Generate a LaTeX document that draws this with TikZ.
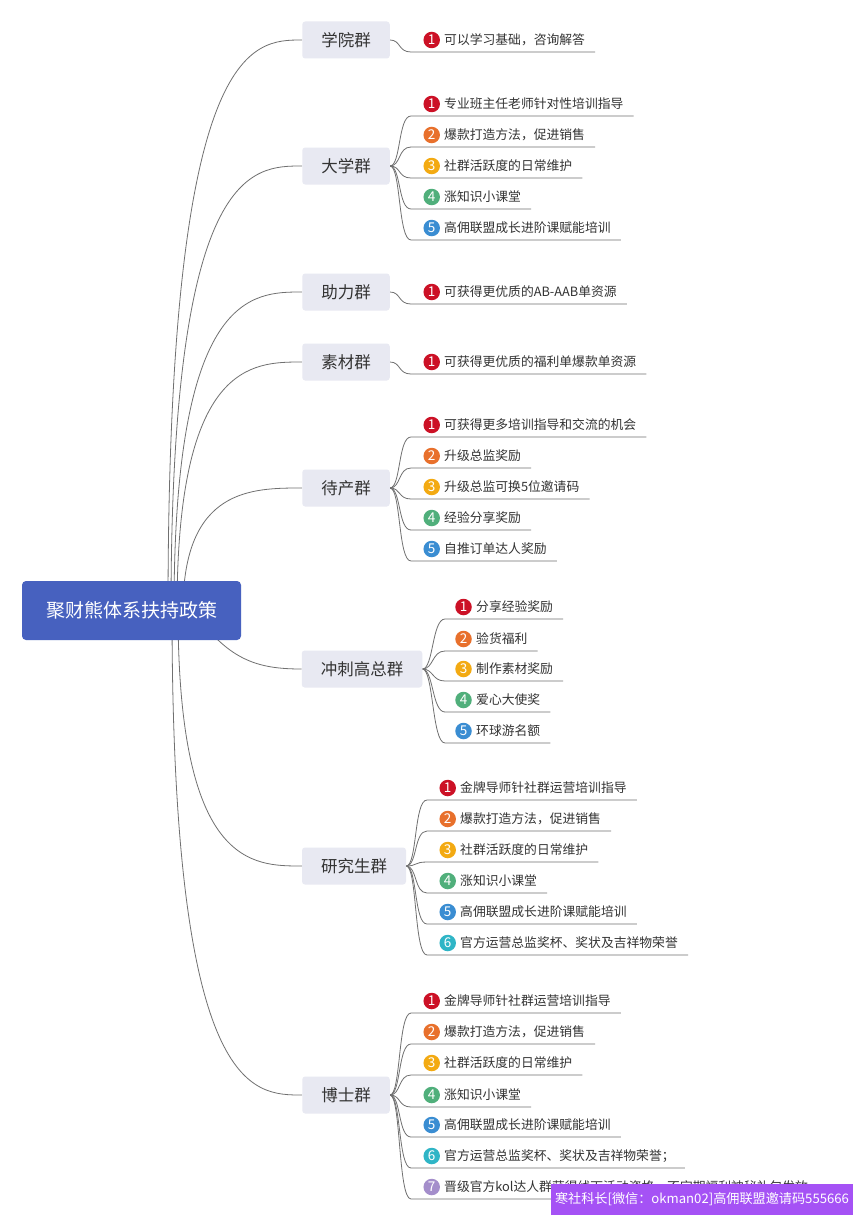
\documentclass[tikz,border=0pt]{standalone}
\usepackage{fontspec}
\setmainfont{Noto Sans CJK SC}
\usetikzlibrary{calc,backgrounds}
\definecolor{cA}{HTML}{CC1126}
\definecolor{cB}{HTML}{E8702C}
\definecolor{cC}{HTML}{F3AA12}
\definecolor{cD}{HTML}{50AF7B}
\definecolor{cE}{HTML}{3A8DD2}
\definecolor{cF}{HTML}{2FB5C6}
\definecolor{cG}{HTML}{A48ECB}
\definecolor{grpfill}{HTML}{E8E9F2}
\definecolor{rootfill}{HTML}{4761BF}
\definecolor{linec}{HTML}{707070}
\definecolor{txtc}{HTML}{333333}
\definecolor{wmfill}{HTML}{A552F5}
\newcommand\UX{411}
\newcommand\CX{431.7}
\newcommand\TX{444}
\newcommand\lf[6]{%
  \node[numc,fill=#4] (#2c) at (\CX,#3) {#5};
  \node[leaf] (#2) at (\TX,#3) {#6};
  \begin{scope}[on background layer]
  \draw[conn] (#1.east) .. controls +(11,0) and +(-13,0) .. (\UX,#3+12) -- ($(#2.east)+(10,12)$);
  \end{scope}
}
\newcommand\br[2]{%
  \coordinate (s#1) at (#2,610);
  \begin{scope}[on background layer]
  \draw[conn] (s#1) .. controls (s#1 |- #1.west) and ($(#1.west)+(-50,0)$) .. (#1.west);
  \end{scope}
}
\begin{document}
\begin{tikzpicture}[x=1pt,y=-1pt,
  conn/.style={draw=linec,line width=0.8pt},
  rootbox/.style={fill=rootfill,rounded corners=4pt,minimum width=219pt,minimum height=59pt,
    text=white,font=\fontsize{19}{22}\selectfont,inner sep=0pt},
  grp/.style={fill=grpfill,rounded corners=3pt,minimum height=37pt,inner xsep=19pt,inner ysep=0pt,
    text=txtc,font=\fontsize{16.5}{19}\selectfont},
  numc/.style={circle,inner sep=0pt,minimum size=16.5pt,text=white,font=\fontsize{13.5}{13.5}\selectfont},
  leaf/.style={anchor=west,inner sep=0pt,text=txtc,font=\fontsize{12.8}{15}\selectfont},
  wm/.style={fill=wmfill,minimum width=302pt,minimum height=31pt,inner sep=0pt,text=white}
]
\begin{scope}[on background layer]
\fill[white] (0,0) rectangle (856,1220);
\end{scope}
\useasboundingbox (0,0) rectangle (856,1220);
\node[rootbox] (root) at (131.5,610.5) {聚财熊体系扶持政策};
\coordinate (rs2) at (205,626);
\node[grp] (g1) at (346,40) {学院群};
\node[grp] (g2) at (346,166) {大学群};
\node[grp] (g3) at (346,292) {助力群};
\node[grp] (g4) at (346,362) {素材群};
\node[grp] (g5) at (346,488) {待产群};
\node[grp] (g6) at (362,669) {冲刺高总群};
\node[grp] (g7) at (354,866) {研究生群};
\node[grp] (g8) at (346,1095) {博士群};
\br{g1}{168}\br{g2}{171}\br{g3}{174}\br{g4}{177}\br{g5}{183}\br{g7}{178}\br{g8}{172}
\begin{scope}[on background layer]
\draw[conn] (rs2) .. controls (235,662) and (262,669) .. (g6.west);
\end{scope}
% 学院群
\lf{g1}{a1}{40}{cA}{1}{可以学习基础，咨询解答}
% 大学群
\lf{g2}{b1}{104}{cA}{1}{专业班主任老师针对性培训指导}
\lf{g2}{b2}{135}{cB}{2}{爆款打造方法，促进销售}
\lf{g2}{b3}{166}{cC}{3}{社群活跃度的日常维护}
\lf{g2}{b4}{197}{cD}{4}{涨知识小课堂}
\lf{g2}{b5}{228}{cE}{5}{高佣联盟成长进阶课赋能培训}
% 助力群
\lf{g3}{c1}{292}{cA}{1}{可获得更优质的AB-AAB单资源}
% 素材群
\lf{g4}{d1}{362}{cA}{1}{可获得更优质的福利单爆款单资源}
% 待产群
\lf{g5}{e1}{425}{cA}{1}{可获得更多培训指导和交流的机会}
\lf{g5}{e2}{456}{cB}{2}{升级总监奖励}
\lf{g5}{e3}{487}{cC}{3}{升级总监可换5位邀请码}
\lf{g5}{e4}{518}{cD}{4}{经验分享奖励}
\lf{g5}{e5}{549}{cE}{5}{自推订单达人奖励}
% 冲刺高总群
\renewcommand\UX{445}\renewcommand\CX{463.5}\renewcommand\TX{476}
\lf{g6}{f1}{607}{cA}{1}{分享经验奖励}
\lf{g6}{f2}{639}{cB}{2}{验货福利}
\lf{g6}{f3}{669}{cC}{3}{制作素材奖励}
\lf{g6}{f4}{700}{cD}{4}{爱心大使奖}
\lf{g6}{f5}{731}{cE}{5}{环球游名额}
% 研究生群
\renewcommand\UX{427}\renewcommand\CX{447.7}\renewcommand\TX{460}
\lf{g7}{h1}{788}{cA}{1}{金牌导师针社群运营培训指导}
\lf{g7}{h2}{819}{cB}{2}{爆款打造方法，促进销售}
\lf{g7}{h3}{850}{cC}{3}{社群活跃度的日常维护}
\lf{g7}{h4}{881}{cD}{4}{涨知识小课堂}
\lf{g7}{h5}{912}{cE}{5}{高佣联盟成长进阶课赋能培训}
\lf{g7}{h6}{943}{cF}{6}{官方运营总监奖杯、奖状及吉祥物荣誉}
% 博士群
\renewcommand\UX{411}\renewcommand\CX{431.7}\renewcommand\TX{444}
\lf{g8}{k1}{1001}{cA}{1}{金牌导师针社群运营培训指导}
\lf{g8}{k2}{1032}{cB}{2}{爆款打造方法，促进销售}
\lf{g8}{k3}{1063}{cC}{3}{社群活跃度的日常维护}
\lf{g8}{k4}{1095}{cD}{4}{涨知识小课堂}
\lf{g8}{k5}{1125}{cE}{5}{高佣联盟成长进阶课赋能培训}
\lf{g8}{k6}{1156}{cF}{6}{官方运营总监奖杯、奖状及吉祥物荣誉；}
\lf{g8}{k7}{1187}{cG}{7}{晋级官方kol达人群获得线下活动资格，不定期福利神秘礼包发放}
% watermark
\node[wm] (wm) at (702,1199.5) {\resizebox{294pt}{!}{\fontsize{14}{16}\selectfont 寒社科长[微信：okman02]高佣联盟邀请码555666}};
\end{tikzpicture}
\end{document}
